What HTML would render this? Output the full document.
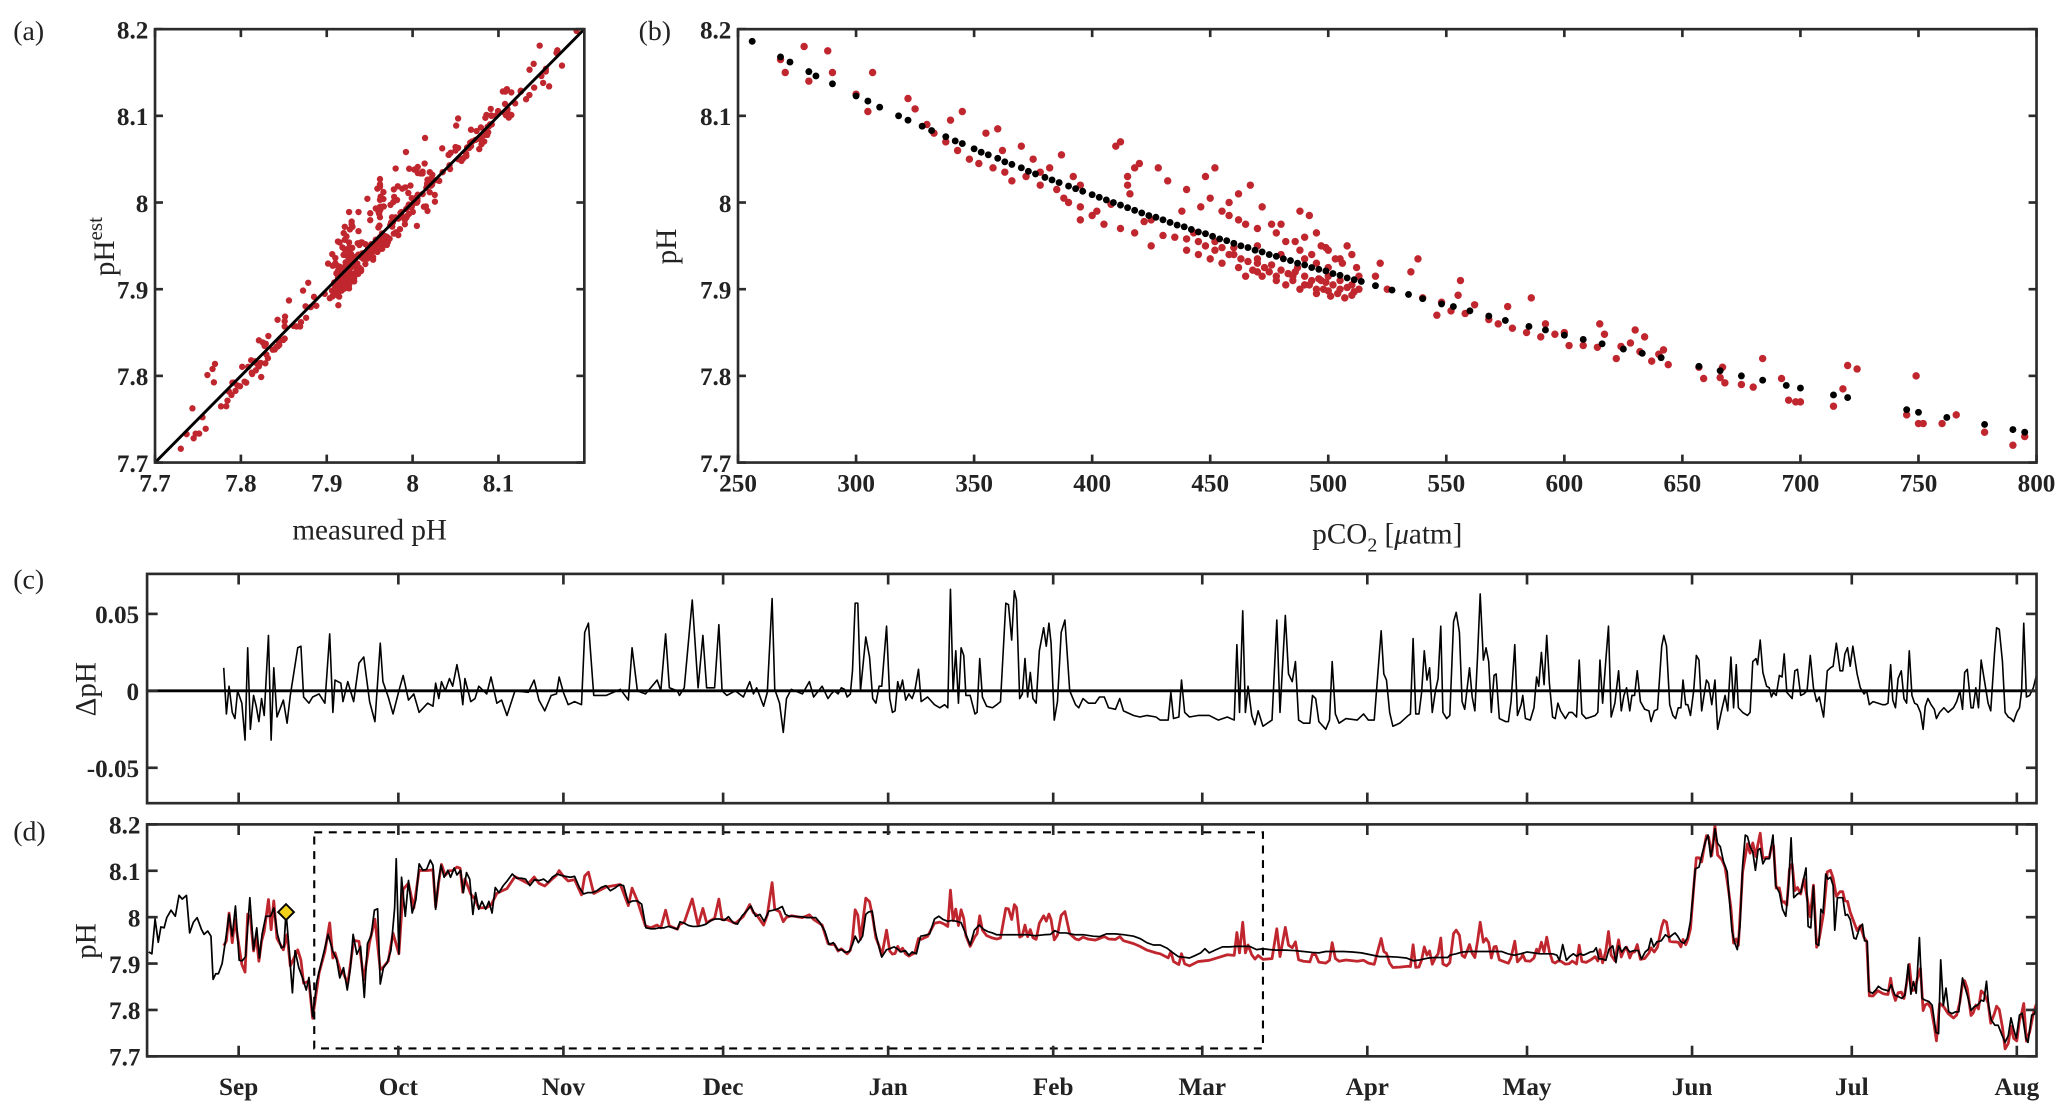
<!DOCTYPE html>
<html><head><meta charset="utf-8"><title>pH figure</title>
<style>
html,body{margin:0;padding:0;background:#fff;}
svg{display:block;}
text{font-family:"Liberation Serif","DejaVu Serif",serif;fill:#222;}
.tk{font-weight:bold;font-size:19px;}
.al{font-size:22px;}
.pl{font-size:21px;}
</style></head>
<body>
<svg id="fig" xmlns="http://www.w3.org/2000/svg" width="2067" height="1112" viewBox="0 0 1560 839" preserveAspectRatio="none">
<rect x="0" y="0" width="1560" height="839" fill="#fff"/>
<text class="pl" x="10" y="30">(a)</text>
<text class="pl" x="482" y="30">(b)</text>
<text class="pl" x="10" y="444">(c)</text>
<text class="pl" x="10" y="634">(d)</text>
<text class="al" transform="translate(86,186) rotate(-90)" text-anchor="middle">pH<tspan font-size="16" dy="-9">est</tspan></text>
<text class="al" x="279" y="407" text-anchor="middle">measured pH</text>
<text class="al" transform="translate(510,186) rotate(-90)" text-anchor="middle">pH</text>
<text class="al" x="1047" y="410" text-anchor="middle">pCO<tspan font-size="15" dy="6">2</tspan><tspan dy="-6"> [</tspan><tspan font-style="italic">μ</tspan>atm]</text>
<text class="al" transform="translate(72,520) rotate(-90)" text-anchor="middle">ΔpH</text>
<text class="al" transform="translate(72,710) rotate(-90)" text-anchor="middle">pH</text>
<g id="layer"></g>
</svg>
<script>
// ---------- data ----------
const monthDays = [0,30,61,91,122,153,181,212,242,273,303,334];
const monthLabels = ["Sep","Oct","Nov","Dec","Jan","Feb","Mar","Apr","May","Jun","Jul","Aug"];
const phTicks = [7.7,7.8,7.9,8.0,8.1,8.2];
const phTickLabels = ["7.7","7.8","7.9","8","8.1","8.2"];
const aXTicks = [7.7,7.8,7.9,8.0,8.1];
const aXTickLabels = ["7.7","7.8","7.9","8","8.1"];
const pco2Ticks = [250,300,350,400,450,500,550,600,650,700,750,800];
const deltaTicks = [0.05,0,-0.05];
const deltaTickLabels = ["0.05","0","-0.05"];

const measDays = [-16.9,-16.3,-15.7,-15.1,-14.6,-14.0,-13.5,-12.7,-11.9,-11.2,-10.6,-9.8,-9.2,-8.5,-7.8,-7.0,-6.5,-5.8,-5.2,-4.8,-4.3,-3.8,-3.1,-2.4,-1.8,-1.2,-0.6,0.1,0.7,1.3,2.1,2.8,3.4,3.9,4.4,5.1,6.0,6.6,7.3,8.0,8.5,8.9,9.5,10.1,10.6,11.3,12.0,12.7,13.2,13.9,14.7,15.3,16.2,16.8,17.7,18.4,19.0,19.7,20.4,21.0,21.5,22.2,22.9,23.6,24.2,24.9,25.5,26.1,26.6,27.2,27.9,28.6,29.3,29.6,30.1,30.6,31.3,31.9,32.6,33.3,33.9,34.6,35.3,36.0,36.5,37.0,37.5,38.0,38.6,39.3,39.8,40.5,41.0,41.7,42.2,42.8,43.4,44.0,44.5,45.1,45.7,46.4,47.0,47.6,48.2,48.9,49.7,50.5,51.4,52.2,53.1,53.9,54.7,55.6,56.4,57.3,58.1,58.9,59.8,60.6,61.4,62.3,63.1,64.0,64.8,65.6,66.5,67.3,68.1,69.0,69.8,70.7,71.5,72.3,73.2,74.0,74.9,75.7,76.5,77.4,78.2,79.0,79.9,80.7,81.6,82.4,82.9,83.7,84.5,85.3,86.2,87.0,87.8,88.7,89.5,90.4,91.2,92.0,92.9,93.7,94.5,95.4,96.2,97.1,97.9,98.7,99.6,100.4,101.3,102.1,102.7,103.4,104.2,105.0,105.9,106.7,107.5,108.4,109.2,110.1,110.9,111.7,112.6,
113.3,113.9,114.7,115.3,115.8,116.4,117.2,117.8,118.3,119.0,119.5,120.2,120.8,121.7,122.3,123.1,123.7,124.4,125.2,125.9,126.5,127.3,128.1,129.0,129.8,130.7,131.5,132.3,133.2,134.0,134.9,135.7,136.5,137.4,138.2,139.1,139.9,140.7,141.6,142.4,143.2,144.5,145.8,147.0,148.3,149.6,151.2,152.5,153.3,154.2,155.4,157.1,158.8,160.5,161.7,163.0,164.7,166.4,168.1,169.3,170.6,171.8,173.1,174.4,175.4,176.5,177.3,178.6,179.6,180.7,181.5,182.3,183.6,184.8,186.1,187.4,188.6,189.9,191.2,192.4,193.7,194.9,196.6,198.3,200.0,201.7,202.9,204.2,205.9,207.5,209.2,210.9,212.6,214.3,215.9,217.6,219.3,
220.7,221.9,223.5,224.7,225.9,227.1,227.5,228.7,229.9,231.1,232.4,233.6,234.8,236.0,237.2,238.4,239.6,240.8,242.0,243.2,244.4,245.6,246.8,247.6,248.1,248.7,249.4,250.0,250.7,251.3,252.0,252.6,253.2,253.9,254.5,255.0,255.5,256.1,256.8,257.4,258.1,258.7,259.2,259.8,260.5,261.3,262.1,262.9,263.5,264.2,264.8,265.3,265.8,266.4,267.2,268.0,268.7,269.3,269.8,270.3,270.9,271.5,272.1,272.7,273.2,273.6,274.3,274.9,275.5,276.0,276.5,277.0,277.3,277.8,278.3,278.9,279.6,280.1,280.5,281.0,281.5,282.0,282.5,283.0,283.4,283.9,284.4,284.9,285.4,285.8,286.3,286.8,287.5,288.2,288.7,289.4,290.0,290.6,291.1,291.6,292.1,292.8,293.4,294.4,294.8,295.3,295.8,296.3,296.8,297.2,297.6,298.1,298.5,299.0,299.5,299.8,300.3,300.8,301.3,301.8,302.2,302.7,303.4,303.8,304.5,305.0,305.4,305.9,306.2,306.9,307.5,308.0,308.7,309.3,309.9,310.4,311.1,311.7,312.4,313.0,313.6,314.1,314.6,315.1,315.7,316.2,316.8,317.5,318.1,318.8,319.3,319.7,320.2,320.7,321.2,321.8,322.5,323.1,323.8,324.2,324.7,325.4,326.0,326.6,327.3,327.8,328.3,328.7,329.2,329.9,330.5,331.1,331.8,332.4,332.9,333.4,333.9,334.5,335.0,335.7,336.1,336.8,337.3,337.9];
const measPH = [7.925,7.921,7.996,7.946,7.979,7.977,7.999,8.015,8.002,8.047,8.039,8.047,7.966,7.989,7.999,7.974,7.963,7.970,7.959,7.866,7.878,7.878,7.900,7.955,8.006,7.959,8.024,7.907,7.906,7.915,8.042,7.930,7.977,7.912,7.963,8.002,8.002,8.020,7.963,7.934,7.936,8.011,7.928,7.837,7.928,7.891,7.869,7.843,7.870,7.786,7.862,7.891,7.934,7.963,7.926,7.909,7.869,7.891,7.843,7.891,7.963,7.920,7.937,7.827,7.943,7.961,8.015,8.018,7.856,7.891,7.902,7.928,8.020,8.126,7.921,8.086,8.002,8.079,8.009,8.038,8.115,8.101,8.103,8.123,8.112,8.017,8.075,8.112,8.086,8.101,8.086,8.106,8.091,8.101,8.053,8.096,8.082,8.006,8.053,8.017,8.034,8.017,8.034,8.009,8.064,8.053,8.068,8.079,8.093,8.084,8.084,8.082,8.068,8.081,8.079,8.082,8.075,8.086,8.093,8.090,8.088,8.086,8.088,8.064,8.050,8.053,8.053,8.057,8.064,8.068,8.057,8.063,8.070,8.068,8.031,8.035,8.035,8.028,7.977,7.975,7.975,7.977,7.977,7.980,7.977,7.974,7.990,7.987,7.982,7.980,7.980,7.982,7.985,7.993,7.996,7.996,7.993,8.001,7.988,7.985,8.002,8.013,8.024,8.002,8.006,7.991,8.013,8.015,8.018,8.023,8.006,8.002,8.002,8.001,8.001,7.999,7.999,7.999,7.988,7.970,7.941,7.945,7.929,
7.930,7.924,7.926,7.941,7.959,7.945,7.959,8.006,8.011,8.013,7.973,7.939,7.914,7.930,7.932,7.936,7.932,7.925,7.928,7.918,7.925,7.921,7.959,7.961,7.964,7.996,8.002,7.995,7.991,7.993,7.991,7.988,7.966,7.940,7.972,7.983,7.974,7.969,7.966,7.962,7.962,7.962,7.962,7.962,7.962,7.960,7.962,7.963,7.971,7.966,7.966,7.962,7.962,7.959,7.958,7.964,7.964,7.962,7.959,7.954,7.945,7.940,7.940,7.933,7.924,7.915,7.914,7.912,7.917,7.923,7.932,7.923,7.930,7.936,7.936,7.937,7.937,7.937,7.930,7.932,7.930,7.929,7.929,7.928,7.926,7.924,7.923,7.926,7.926,7.926,7.925,7.923,7.919,7.915,7.915,7.914,7.912,
7.906,7.908,7.912,7.913,7.913,7.913,7.918,7.921,7.925,7.926,7.926,7.926,7.926,7.926,7.926,7.921,7.918,7.921,7.925,7.923,7.921,7.921,7.921,7.918,7.907,7.941,7.907,7.915,7.921,7.916,7.921,7.918,7.921,7.925,7.926,7.934,7.910,7.910,7.907,7.931,7.938,7.902,7.938,7.925,7.936,7.925,7.928,7.928,7.910,7.925,7.931,7.954,7.936,7.947,7.949,7.962,7.956,7.962,7.966,7.959,7.947,7.944,7.955,7.991,8.050,8.104,8.108,8.137,8.163,8.177,8.130,8.159,8.191,8.159,8.152,8.120,8.098,8.025,7.970,7.945,7.930,7.981,8.112,8.177,8.174,8.152,8.141,8.101,8.145,8.148,8.115,8.126,8.126,8.177,8.068,8.053,8.017,8.002,8.064,8.171,8.042,8.050,8.053,8.106,7.980,7.977,8.067,7.943,7.939,8.017,8.009,8.093,8.082,8.086,8.068,7.972,8.042,8.042,8.042,8.004,8.006,7.995,7.955,7.953,7.978,7.985,7.949,7.948,7.840,7.836,7.843,7.851,7.845,7.843,7.841,7.854,7.832,7.829,7.825,7.832,7.898,7.834,7.861,7.836,7.956,7.825,7.821,7.818,7.810,7.752,7.749,7.908,7.810,7.847,7.796,7.792,7.796,7.796,7.869,7.851,7.832,7.799,7.807,7.810,7.821,7.819,7.862,7.810,7.778,7.767,7.767,7.749,7.730,7.745,7.783,7.759,7.739,7.789,7.793,7.739,7.730,7.789,7.791,7.812];

const deltaDays = [-2.8,-2.3,-1.8,-1.2,-0.7,-0.2,0.6,1.2,1.7,2.2,2.8,3.3,3.8,4.3,4.8,5.6,6.1,6.6,7.2,8.4,9.1,9.7,11.1,11.7,12.2,13.2,13.9,15.1,16.2,17.1,17.7,18.1,19.2,19.6,20.5,21.6,22.6,23.5,24.6,25.6,26.6,27.1,28.1,29.0,30.1,30.9,31.9,32.9,33.9,35.5,36.5,37.0,37.6,38.1,38.8,39.6,40.2,41.0,41.6,42.1,42.5,43.6,44.4,45.1,46.6,47.4,48.5,49.4,50.4,51.9,54.4,55.5,56.4,57.5,58.7,59.7,60.2,61.0,61.9,63.1,64.4,65.0,65.7,66.7,69.0,71.7,73.2,73.9,74.9,76.4,77.4,78.6,79.3,80.2,80.9,82.4,82.8,83.7,85.2,86.3,87.2,87.9,89.4,90.2,90.8,91.7,93.3,94.8,96.0,96.7,97.3,98.6,99.3,100.2,100.7,101.6,102.3,102.9,103.8,105.9,107.2,108.0,109.6,
110.7,111.3,111.9,112.6,113.2,113.8,114.3,114.9,115.3,115.8,116.3,116.8,117.8,118.5,119.1,119.7,120.3,120.8,121.7,122.3,122.8,123.3,123.8,124.2,124.7,125.3,125.9,126.5,127.0,127.7,128.2,129.4,130.7,131.7,132.6,133.2,133.7,134.2,134.7,135.2,135.7,136.2,136.6,137.4,138.3,138.7,139.2,139.7,140.5,141.6,142.4,143.1,144.1,144.6,145.2,145.7,146.1,146.7,147.2,147.7,148.2,148.7,149.2,149.8,150.4,151.2,151.7,152.2,152.6,153.2,153.8,154.5,155.2,156.1,157.2,157.8,158.6,159.6,160.9,161.7,162.6,163.4,164.7,165.5,166.2,168.1,169.3,170.6,172.3,173.1,174.6,175.1,175.6,176.6,177.1,177.7,178.6,180.2,182.3,184.0,185.7,187.0,187.5,188.0,188.6,189.1,189.6,190.3,190.9,191.5,192.4,194.1,195.0,195.6,196.6,197.2,197.9,198.5,199.1,200.0,201.2,201.7,202.3,202.9,204.2,204.9,205.4,206.0,206.7,208.0,210.1,211.3,212.2,213.3,214.6,215.1,215.6,216.2,216.8,218.1,219.7,
220.1,220.6,221.1,221.7,222.2,222.7,223.2,223.7,224.2,224.8,225.3,225.8,226.2,226.9,227.5,228.2,228.7,229.3,229.8,230.3,230.7,231.2,231.7,232.2,232.7,233.2,233.8,234.3,234.8,235.3,235.8,236.2,236.8,238.0,238.5,239.0,239.7,240.2,240.9,241.2,241.7,242.6,243.3,243.8,244.2,244.7,245.2,245.7,246.2,246.8,247.3,247.8,248.3,249.2,249.9,250.5,251.3,251.8,252.3,253.1,254.0,254.8,255.3,255.7,256.2,256.8,257.3,257.8,258.5,259.2,259.7,260.2,260.7,261.3,261.7,262.2,262.7,263.3,264.1,264.9,265.3,265.9,266.5,267.3,267.7,268.2,268.8,269.4,269.9,270.4,270.9,271.3,271.8,272.2,272.7,273.3,273.8,274.3,274.8,275.2,275.7,276.1,276.7,277.3,277.8,278.6,279.2,279.7,280.3,280.8,281.3,281.7,282.5,283.4,283.9,284.4,285.0,285.3,285.8,286.3,287.0,287.5,287.9,288.3,288.8,289.4,289.9,290.3,290.8,291.3,291.8,292.3,292.8,293.4,294.0,294.6,295.2,295.8,296.4,296.9,297.7,298.4,299.0,299.5,300.1,300.8,301.3,301.7,302.2,302.7,303.2,304.0,304.6,305.3,305.8,306.3,307.0,307.9,308.8,309.3,309.8,310.3,310.7,311.2,311.7,312.3,312.8,313.3,313.8,314.3,314.8,315.3,315.9,316.4,316.8,317.3,317.9,318.5,318.9,319.5,320.3,321.1,322.1,322.7,323.3,323.8,324.2,324.7,325.4,325.8,326.3,326.8,327.3,327.9,328.6,329.1,329.8,330.2,330.7,331.3,331.8,332.4,332.9,333.4,334.0,334.5,334.9,335.3,335.8,336.4,337.1,337.6,338.1];
const deltaVals = [0.015,-0.015,0.003,-0.014,-0.018,0,-0.008,-0.032,0.028,-0.025,-0.003,-0.010,-0.020,-0.005,-0.016,0.036,-0.032,0.015,-0.017,-0.006,-0.021,-0.003,0.028,0.029,-0.004,-0.008,-0.004,-0.002,-0.008,0.037,-0.014,0.007,0.005,-0.007,0.006,-0.007,0.018,0.022,-0.007,-0.020,0.031,0.006,-0.004,-0.015,0,0.010,-0.006,-0.002,-0.014,-0.008,-0.010,0.005,-0.005,0.006,0,0.008,0.003,0.017,0.006,-0.009,0.008,-0.007,-0.005,0.003,-0.002,0.009,-0.008,-0.006,-0.016,0,-0.001,0.007,-0.006,-0.013,-0.003,-0.002,0.009,-0.001,-0.009,-0.007,-0.009,0.038,0.044,-0.003,-0.003,0.001,-0.006,0.028,0,-0.002,0.002,0.007,0,0.037,0.002,0,-0.003,0.002,0.059,0.002,0.036,0.002,0.002,0.043,0,-0.003,0,-0.004,0.006,-0.002,0.002,-0.010,-0.001,0.060,0.001,-0.008,-0.027,-0.005,0.001,-0.002,0.006,-0.004,0.003,
-0.005,-0.002,0,-0.002,0.002,0.001,-0.004,-0.002,0.013,0.057,0.057,0,0.035,0.022,-0.005,-0.008,0.003,0.003,0.042,-0.005,-0.014,-0.013,0.006,0,0.007,-0.006,-0.002,-0.005,0,0.014,-0.007,-0.004,-0.009,-0.011,-0.009,-0.011,0.066,0,0.026,-0.008,0.028,0.023,-0.003,-0.003,-0.015,-0.014,0.021,-0.004,-0.010,-0.011,-0.009,-0.007,0.057,0.056,0.033,0.065,0.059,-0.005,-0.002,0.021,-0.004,0.012,-0.005,-0.008,0.026,0.041,0.029,0.044,0.031,-0.019,-0.007,0.038,0.046,0,-0.009,-0.011,-0.005,-0.008,-0.008,-0.004,-0.004,-0.011,-0.012,-0.005,-0.013,-0.016,-0.017,-0.016,-0.017,-0.019,-0.019,-0.001,-0.018,-0.017,0.007,-0.014,-0.017,-0.016,-0.016,-0.019,-0.017,-0.019,0.030,-0.014,0.052,-0.014,0.003,-0.016,-0.022,-0.013,-0.023,-0.019,0.046,-0.014,0.049,0.011,0.006,0.019,-0.019,-0.021,-0.021,-0.003,-0.005,-0.020,-0.025,-0.019,0.019,-0.015,-0.021,-0.018,-0.019,-0.015,-0.019,-0.019,0.039,0.011,0.007,-0.014,-0.023,-0.021,-0.016,
-0.015,0.034,-0.015,-0.015,-0.001,0.026,0.007,0.015,-0.014,0,0.008,0.042,-0.014,-0.018,-0.016,0.045,0.051,0.038,-0.007,-0.012,0,0.015,-0.004,-0.013,0.022,0.063,0.020,0.028,0.019,-0.014,0.010,0.011,-0.018,-0.020,-0.020,-0.007,0.030,-0.016,-0.009,-0.003,-0.018,-0.019,-0.011,0.009,0.003,0.025,0.004,0.036,0.005,-0.017,-0.018,-0.008,-0.013,-0.018,-0.014,-0.014,-0.017,0.020,-0.015,-0.018,-0.017,-0.016,-0.014,0.020,-0.008,0.020,0.042,-0.017,-0.008,0.013,-0.013,-0.003,0.002,-0.013,-0.003,-0.003,0.013,-0.007,-0.012,-0.013,-0.020,-0.013,-0.012,0.029,0.036,0.029,-0.009,-0.016,-0.018,-0.011,-0.011,0.007,-0.009,-0.009,-0.016,0,0.023,0.020,-0.013,-0.004,0.007,0.005,-0.009,0.007,-0.025,-0.012,-0.003,-0.013,0.022,-0.011,0.017,-0.011,-0.014,-0.016,-0.014,0.019,0.021,0.017,0.033,0.012,0.003,0.002,-0.004,-0.001,-0.003,0.010,0.009,0.024,-0.001,-0.003,-0.005,0.013,0.014,-0.003,-0.002,0,0.023,0.002,-0.007,-0.004,-0.017,0.013,0.015,0.016,0.031,0.013,0.013,0.024,0.028,0.016,0.029,0.011,0.002,-0.002,0,-0.009,-0.007,-0.008,-0.009,-0.009,-0.008,0.017,-0.006,-0.011,0.008,0.013,-0.005,-0.008,0.026,-0.003,-0.008,-0.009,-0.014,-0.025,-0.010,-0.005,-0.009,-0.012,-0.018,-0.014,-0.011,-0.014,-0.011,-0.007,0,-0.012,0.012,0.014,-0.011,-0.011,0.002,-0.011,0.020,0.007,-0.008,-0.013,0.024,0.041,0.040,0.019,-0.014,-0.017,-0.018,-0.020,-0.014,-0.011,0,0.044,-0.004,-0.003,0.002,0.009,0.006];

const markerDay = 8.9;
const markerPH = 8.011;
const boxDays = [14.2,192.4];
const boxPH = [7.717,8.183];

const bBlackPCO2 = [256,268,272,280,283,290,300,305,310,318,322,328,332,338,342,345,350,353,356,360,363,366,370,373,376,380,383,386,390,393,396,400,403,406,409,412,415,418,421,424,427,430,433,436,439,442,445,448,451,454,457,460,463,466,469,472,475,478,481,484,487,490,493,496,499,502,505,508,511,514,520,527,534,540,548,553,560,568,575,585,592,600,608,616,625,633,641,657,666,675,684,694,700,714,720,745,750,762,778,790,795];
const bBlackPH = [8.186,8.168,8.162,8.151,8.146,8.137,8.123,8.117,8.110,8.100,8.095,8.088,8.083,8.076,8.071,8.068,8.062,8.058,8.055,8.051,8.047,8.044,8.040,8.036,8.033,8.029,8.026,8.023,8.019,8.016,8.013,8.009,8.006,8.003,8.000,7.997,7.994,7.991,7.988,7.985,7.983,7.980,7.977,7.974,7.972,7.969,7.966,7.964,7.961,7.958,7.956,7.953,7.950,7.948,7.945,7.943,7.940,7.938,7.935,7.933,7.930,7.928,7.925,7.923,7.921,7.918,7.916,7.913,7.911,7.909,7.904,7.899,7.894,7.889,7.883,7.880,7.875,7.869,7.864,7.857,7.853,7.847,7.842,7.837,7.831,7.826,7.821,7.811,7.806,7.800,7.795,7.789,7.786,7.778,7.775,7.761,7.758,7.752,7.744,7.738,7.735];
const bRedPCO2 = [268,270,278,280,288,290,300,305,307,322,325,330,340,345,355,360,362,370,375,382,387,392,395,410,412,415,416,420,425,428,440,446,452,455,458,462,465,470,472,476,480,486,488,492,495,500,505,508,512,
435,440,445,448,452,455,460,463,466,470,473,476,480,483,486,490,493,496,499,502,505,508,511,490,495,500,485,478,470,510,
415,418,432,438,448,450,458,462,467,470,478,482,488,490,493,497,500,503,506,510,513,490,495,480,499,
390,395,400,402,405,408,412,418,422,430,425,395,388,333,338,343,348,352,358,363,366,372,378,385,378,
440,445,450,455,458,462,468,472,475,478,482,485,488,492,495,498,501,504,507,510,513,465,452,443,487,497,505,500,470,460,
520,522,525,535,538,540,546,548,552,555,556,558,562,568,572,576,578,584,586,590,592,596,600,602,608,614,615,617,622,624,628,630,632,634,637,640,642,644,657,659,666,667,668,675,680,684,692,695,698,700,714,718,720,724,745,749,750,752,760,766,778,790,795];
const bRedPH = [8.165,8.150,8.180,8.140,8.175,8.150,8.125,8.105,8.150,8.120,8.108,8.090,8.095,8.105,8.080,8.085,8.060,8.065,8.050,8.040,8.055,8.030,8.020,8.065,8.070,8.030,8.010,8.045,7.980,8.040,8.015,7.995,8.040,7.990,7.985,8.010,7.975,7.950,7.995,7.975,7.940,7.955,7.990,7.985,7.965,7.945,7.935,7.950,7.925,
7.960,7.958,7.955,7.950,7.945,7.948,7.940,7.935,7.932,7.930,7.925,7.928,7.922,7.918,7.920,7.915,7.910,7.912,7.908,7.905,7.900,7.902,7.897,7.905,7.900,7.898,7.910,7.915,7.920,7.893,
8.020,8.040,8.025,7.990,8.030,8.005,8.000,7.980,8.020,7.970,7.965,7.955,7.945,7.935,7.940,7.950,7.925,7.935,7.930,7.940,7.915,7.960,7.930,7.975,7.948,
8.000,7.995,7.985,7.990,7.975,7.998,7.970,7.965,7.978,7.962,7.950,7.980,8.005,8.080,8.070,8.060,8.050,8.045,8.040,8.035,8.025,8.030,8.020,8.015,8.035,
7.945,7.940,7.935,7.930,7.940,7.925,7.922,7.915,7.920,7.910,7.905,7.915,7.900,7.905,7.895,7.900,7.892,7.895,7.890,7.905,7.900,7.915,7.955,7.965,7.925,7.910,7.910,7.915,7.935,7.948,
7.915,7.930,7.900,7.920,7.935,7.890,7.870,7.885,7.875,7.893,7.910,7.872,7.882,7.865,7.860,7.880,7.855,7.850,7.890,7.845,7.860,7.848,7.850,7.835,7.835,7.833,7.860,7.848,7.820,7.834,7.838,7.853,7.828,7.845,7.817,7.825,7.830,7.813,7.810,7.797,7.798,7.810,7.792,7.790,7.787,7.820,7.797,7.772,7.770,7.770,7.765,7.785,7.812,7.808,7.755,7.800,7.745,7.745,7.745,7.755,7.735,7.720,7.730];

// ---------- helpers ----------
const NS = "http://www.w3.org/2000/svg";
const layer = document.getElementById("layer");
function mk(tag, attrs, parent) {
  const el = document.createElementNS(NS, tag);
  for (const k in attrs) el.setAttribute(k, attrs[k]);
  (parent || layer).appendChild(el);
  return el;
}
function lin(d0, d1, r0, r1) { return v => r0 + (v - d0) * (r1 - r0) / (d1 - d0); }
function interp(xs, ys, t) {
  if (t <= xs[0]) return ys[0];
  for (let i = 1; i < xs.length; i++) {
    if (t <= xs[i]) { const f = (t - xs[i-1]) / (xs[i] - xs[i-1]); return ys[i-1] + f * (ys[i] - ys[i-1]); }
  }
  return ys[ys.length - 1];
}
const RED = "#c0262e";
const AX = "#2b2b2b";

const A = {l:117, r:441, t:22, b:349};
const B = {l:557, r:1537, t:22, b:349};
const C = {l:111, r:1537, t:433, b:606};
const D = {l:111, r:1537, t:622, b:797};

const axAx = lin(7.7, 8.2, A.l, A.r), axAy = lin(7.7, 8.2, A.b, A.t);
const axBx = lin(250, 800, B.l, B.r), axBy = lin(7.7, 8.2, B.b, B.t);
const tX = lin(-17.2, 337.7, C.l, C.r);
const axCy = lin(-0.073, 0.076, C.b, C.t);
const axDy = lin(7.7, 8.2, D.b, D.t);

function clip(id, P) {
  let defs = document.getElementById("defs");
  if (!defs) { defs = mk("defs", {id: "defs"}); }
  const cp = mk("clipPath", {id: id}, defs);
  mk("rect", {x: P.l, y: P.t, width: P.r - P.l, height: P.b - P.t}, cp);
}
clip("clipA", A); clip("clipB", B); clip("clipC", C); clip("clipD", D);

function frame(P, name) {
  const f = mk("rect", {x: P.l, y: P.t, width: P.r - P.l, height: P.b - P.t, fill: "none", stroke: AX, "stroke-width": 2});
  
  
}
function tickLine(x1, y1, x2, y2, name) {
  const t = mk("line", {x1: x1, y1: y1, x2: x2, y2: y2, stroke: AX, "stroke-width": 2});
  
  
}
function label(x, y, s, anchor, name) {
  const t = mk("text", {x: x, y: y, class: "tk", "text-anchor": anchor});
  t.textContent = s;
  
  
}
const TL = 6;

// ---------- panel a ----------
const ga = mk("g", {"clip-path": "url(#clipA)"});


for (let i = 0; i < deltaDays.length; i++) {
  const m = interp(measDays, measPH, deltaDays[i]);
  const e = m + deltaVals[i];
  const c = mk("circle", {cx: axAx(m), cy: axAy(e), r: 2.4, fill: RED}, ga);
  
  
}
const diag = mk("line", {x1: axAx(7.7), y1: axAy(7.7), x2: axAx(8.2), y2: axAy(8.2), stroke: "#000", "stroke-width": 2.2, "clip-path": "url(#clipA)"});


frame(A, "panel-a-frame");
aXTicks.forEach((v, i) => {
  tickLine(axAx(v), A.b, axAx(v), A.b - TL, "panel-a-x-tick");
  tickLine(axAx(v), A.t, axAx(v), A.t + TL, "panel-a-x-tick-top");
  label(axAx(v), A.b + 22, aXTickLabels[i], "middle", "panel-a-x-tick-label");
});
phTicks.forEach((v, i) => {
  tickLine(A.l, axAy(v), A.l + TL, axAy(v), "panel-a-y-tick");
  tickLine(A.r, axAy(v), A.r - TL, axAy(v), "panel-a-y-tick-right");
  label(A.l - 5, axAy(v) + 7, phTickLabels[i], "end", "panel-a-y-tick-label");
});

// ---------- panel b ----------
const gb = mk("g", {"clip-path": "url(#clipB)"});


for (let i = 0; i < bRedPCO2.length; i++) {
  const c = mk("circle", {cx: axBx(bRedPCO2[i]), cy: axBy(bRedPH[i]), r: 2.8, fill: RED}, gb);
  
  
}
for (let i = 0; i < bBlackPCO2.length; i++) {
  const c = mk("circle", {cx: axBx(bBlackPCO2[i]), cy: axBy(bBlackPH[i]), r: 2.6, fill: "#000"}, gb);
  
  
}
frame(B, "panel-b-frame");
pco2Ticks.forEach(v => {
  tickLine(axBx(v), B.b, axBx(v), B.b - TL, "panel-b-x-tick");
  tickLine(axBx(v), B.t, axBx(v), B.t + TL, "panel-b-x-tick-top");
  label(axBx(v), B.b + 22, String(v), "middle", "panel-b-x-tick-label");
});
phTicks.forEach((v, i) => {
  tickLine(B.l, axBy(v), B.l + TL, axBy(v), "panel-b-y-tick");
  tickLine(B.r, axBy(v), B.r - TL, axBy(v), "panel-b-y-tick-right");
  label(B.l - 5, axBy(v) + 7, phTickLabels[i], "end", "panel-b-y-tick-label");
});

// ---------- panel c ----------
const zero = mk("line", {x1: C.l, y1: axCy(0), x2: C.r, y2: axCy(0), stroke: "#000", "stroke-width": 2.2});


let dc = "";
for (let i = 0; i < deltaDays.length; i++) dc += (i ? "L" : "M") + tX(deltaDays[i]).toFixed(2) + "," + axCy(deltaVals[i]).toFixed(2);
const lc = mk("path", {d: dc, fill: "none", stroke: "#000", "stroke-width": 1.2, "stroke-linejoin": "round", "clip-path": "url(#clipC)"});


frame(C, "panel-c-frame");
monthDays.forEach(v => {
  tickLine(tX(v), C.b, tX(v), C.b - 8, "panel-c-x-tick");
  tickLine(tX(v), C.t, tX(v), C.t + 8, "panel-c-x-tick-top");
});
deltaTicks.forEach((v, i) => {
  tickLine(C.l, axCy(v), C.l + 8, axCy(v), "panel-c-y-tick");
  tickLine(C.r, axCy(v), C.r - 8, axCy(v), "panel-c-y-tick-right");
  label(C.l - 6, axCy(v) + 7, deltaTickLabels[i], "end", "panel-c-y-tick-label");
});

// ---------- panel d ----------
let dr = "";
for (let i = 0; i < deltaDays.length; i++) {
  const e = interp(measDays, measPH, deltaDays[i]) + deltaVals[i];
  dr += (i ? "L" : "M") + tX(deltaDays[i]).toFixed(2) + "," + axDy(e).toFixed(2);
}
const lr = mk("path", {d: dr, fill: "none", stroke: RED, "stroke-width": 2.1, "stroke-linejoin": "round", "clip-path": "url(#clipD)"});


let dm = "";
for (let i = 0; i < measDays.length; i++) dm += (i ? "L" : "M") + tX(measDays[i]).toFixed(2) + "," + axDy(measPH[i]).toFixed(2);
const lm = mk("path", {d: dm, fill: "none", stroke: "#000", "stroke-width": 1.3, "stroke-linejoin": "round", "clip-path": "url(#clipD)"});


const box = mk("rect", {x: tX(boxDays[0]), y: axDy(boxPH[1]), width: tX(boxDays[1]) - tX(boxDays[0]), height: axDy(boxPH[0]) - axDy(boxPH[1]), fill: "none", stroke: "#000", "stroke-width": 1.6, "stroke-dasharray": "6,5"});


const mx = tX(markerDay), my = axDy(markerPH);
const dia = mk("polygon", {points: `${mx},${my-6} ${mx+6},${my} ${mx},${my+6} ${mx-6},${my}`, fill: "#f2d11b", stroke: "#000", "stroke-width": 1.4});


frame(D, "panel-d-frame");
monthDays.forEach((v, i) => {
  tickLine(tX(v), D.b, tX(v), D.b - 8, "panel-d-x-tick");
  tickLine(tX(v), D.t, tX(v), D.t + 8, "panel-d-x-tick-top");
  label(tX(v), D.b + 29, monthLabels[i], "middle", "month-label");
});
phTicks.forEach((v, i) => {
  tickLine(D.l, axDy(v), D.l + 8, axDy(v), "panel-d-y-tick");
  tickLine(D.r, axDy(v), D.r - 8, axDy(v), "panel-d-y-tick-right");
  label(D.l - 5, axDy(v) + 7, phTickLabels[i], "end", "panel-d-y-tick-label");
});
</script>
</body></html>
